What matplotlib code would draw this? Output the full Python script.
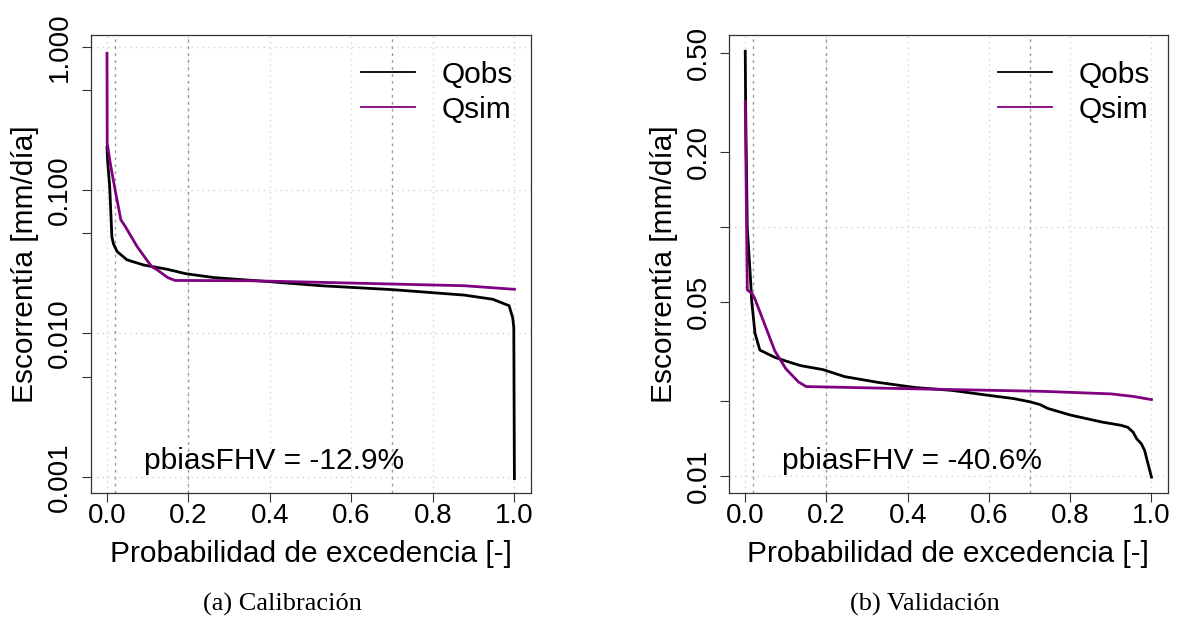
import numpy as np
import matplotlib
matplotlib.use("Agg")
import matplotlib.pyplot as plt

################################################################################
# curvas de duracion
cal_obs_p = [0.0, 0.0015, 0.0066, 0.012, 0.016, 0.025, 0.049, 0.09, 0.148, 0.193,
             0.263, 0.395, 0.526, 0.70, 0.877, 0.947, 0.987, 0.996, 0.9985, 1.0]
cal_obs_q = [0.20, 0.16, 0.106, 0.047, 0.042, 0.0372, 0.0326, 0.030, 0.028, 0.0261,
             0.0245, 0.0230, 0.0215, 0.0202, 0.0185, 0.0173, 0.0156, 0.0128, 0.011, 0.00097]
cal_sim_p = [0.0, 0.0005, 0.008, 0.02, 0.034, 0.045, 0.074, 0.096, 0.11, 0.123,
             0.149, 0.167, 0.351, 0.526, 0.70, 0.877, 1.0]
cal_sim_q = [0.90, 0.212, 0.154, 0.10, 0.062, 0.0556, 0.0403, 0.033, 0.0292, 0.0278,
             0.0245, 0.0234, 0.0233, 0.0227, 0.0221, 0.0215, 0.0203]

val_obs_p = [0.0, 0.001, 0.005, 0.014, 0.0156, 0.024, 0.036, 0.073, 0.10, 0.136,
             0.191, 0.245, 0.327, 0.418, 0.509, 0.60, 0.66, 0.70, 0.725, 0.745,
             0.80, 0.877, 0.925, 0.942, 0.955, 0.964, 0.975, 0.983, 0.991, 1.0]
val_obs_q = [0.51, 0.30, 0.10, 0.058, 0.051, 0.0375, 0.0321, 0.0300, 0.0290, 0.0278,
             0.0268, 0.0251, 0.0238, 0.0227, 0.0221, 0.0211, 0.0205, 0.0199, 0.0194, 0.0187,
             0.0176, 0.0165, 0.0160, 0.0157, 0.0150, 0.0141, 0.0135, 0.0127, 0.0113, 0.0099]
val_sim_p = [0.0, 0.005, 0.0165, 0.023, 0.044, 0.073, 0.10, 0.131, 0.15, 0.373,
             0.555, 0.736, 0.90, 0.955, 1.0]
val_sim_q = [0.32, 0.056, 0.0543, 0.0519, 0.0423, 0.0318, 0.027, 0.0239, 0.0229, 0.0225,
             0.0222, 0.0219, 0.0214, 0.0209, 0.0203]

x_ticks = [0.0, 0.2, 0.4, 0.6, 0.8, 1.0]
x_labels = ["0.0", "0.2", "0.4", "0.6", "0.8", "1.0"]
cal_yticks = [1.0, 0.5, 0.1, 0.05, 0.01, 0.005, 0.001]
cal_ylabels = ["1.000", "", "0.100", "", "0.010", "", "0.001"]
val_yticks = [0.5, 0.2, 0.1, 0.05, 0.02, 0.01]
val_ylabels = ["0.50", "0.20", "", "0.05", "", "0.01"]
cal_hgrid = [0.001, 0.01, 0.1, 1.0]
val_hgrid = [0.01, 0.1]
fdc_marks = [0.02, 0.2, 0.7]
pbias = ["pbiasFHV = -12.9%", "pbiasFHV = -40.6%"]
captions = ["(a) Calibración", "(b) Validación"]
################################################################################
W, H = 1182, 624
sans = "Liberation Sans"
purple = "#800080"
boxcol = "#333333"

fig = plt.figure(figsize=(W / 100, H / 100), dpi=100)

def make_panel(rect, obs_p, obs_q, sim_p, sim_q, yticks, ylabels, hgrid, ylim, text):
    ax = fig.add_axes(rect)
    ax.set_yscale("log")
    for x in x_ticks:
        ax.axvline(x, color="#d3d3d3", lw=1, ls=(0, (1, 3)), zorder=1)
    for y in hgrid:
        ax.axhline(y, color="#d3d3d3", lw=1, ls=(0, (1, 3)), zorder=1)
    for x in fdc_marks:
        ax.axvline(x, color="#9a9a9a", lw=1, ls=(0, (2, 3)), zorder=1)
    ax.plot(obs_p, obs_q, color="black", lw=2.0, label="Qobs", zorder=3)
    ax.plot(sim_p, sim_q, color=purple, lw=2.0, label="Qsim", zorder=4)
    ax.set_xlim(-0.04, 1.04)
    ax.set_ylim(*ylim)
    ax.set_xticks(x_ticks)
    ax.set_xticklabels(x_labels, fontsize=20, family=sans)
    ax.set_yticks(yticks)
    ax.set_yticklabels(ylabels, fontsize=20, family=sans, rotation=90, va="center")
    ax.yaxis.set_minor_locator(matplotlib.ticker.NullLocator())
    ax.tick_params(axis="both", direction="out", length=6.5, width=0.8, color=boxcol)
    ax.tick_params(axis="x", pad=0.5)
    ax.tick_params(axis="y", pad=6)
    for s in ax.spines.values():
        s.set_color(boxcol)
        s.set_linewidth(0.9)
    leg = ax.legend(loc="upper right", bbox_to_anchor=(1.0, 0.983), frameon=False,
                    prop={"family": sans, "size": 21.5}, handlelength=1.8,
                    handletextpad=0.9, labelspacing=0.23, borderaxespad=0.3, borderpad=0.3)
    for l in leg.get_lines():
        l.set_linewidth(1.3)
    ax.text(0.41, 0.07, text, transform=ax.get_xaxis_transform(), ha="center",
            va="center", fontsize=21.5, family=sans)
    return ax

ax1 = make_panel([90.7 / W, 1 - 493 / H, 440 / W, 458 / H],
                 cal_obs_p, cal_obs_q, cal_sim_p, cal_sim_q,
                 cal_yticks, cal_ylabels, cal_hgrid, (0.00077, 1.207), pbias[0])
ax2 = make_panel([729 / W, 1 - 493 / H, 438.7 / W, 458 / H],
                 val_obs_p, val_obs_q, val_sim_p, val_sim_q,
                 val_yticks, val_ylabels, val_hgrid, (0.00855, 0.593), pbias[1])

# etiquetas de ejes y subtitulos
for xc, yl in [(33, 310.7), (671.7, 948.3)]:
    fig.text(xc / W, 1 - 264 / H, "Escorrentía [mm/día]", rotation=90,
             rotation_mode="anchor", ha="center", va="baseline", fontsize=21.5, family=sans)
    fig.text(yl / W, 1 - 562 / H, "Probabilidad de excedencia [-]", ha="center",
             va="baseline", fontsize=21.5, family=sans)
fig.text(282 / W, 1 - 611 / H, captions[0], ha="center", va="baseline",
         fontsize=19, family="Liberation Serif")
fig.text(925 / W, 1 - 611 / H, captions[1], ha="center", va="baseline",
         fontsize=19, family="Liberation Serif")

plt.savefig("out.png", dpi=100)
